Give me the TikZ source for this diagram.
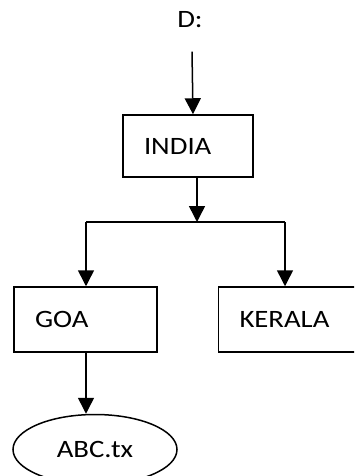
\documentclass[tikz,border=0pt]{standalone}
\usepackage{fontspec}
\setmainfont{Carlito}[FakeStretch=1.15]
\usepackage{tikz}
\usetikzlibrary{positioning, shapes.geometric, arrows.meta}
\tikzstyle{folder} = [rectangle,
minimum height=65pt,
text width=101pt,
inner xsep=21pt,
align=left,
draw=black,
line width=1.5pt]
\tikzstyle{file} = [ellipse,
minimum width=164pt,
minimum height=70pt,
text centered,
draw=black,
line width=1.5pt]
\tikzstyle{arrow} = [line width=1.5pt,-{Triangle[length=16pt,width=16pt]}]

\begin{document}
\begin{tikzpicture}[x=1pt, y=1pt, node distance=130pt, font=\fontsize{25}{30}\selectfont]
        \useasboundingbox (0,0) rectangle (354,-476);
        \clip (0,0) rectangle (354,-476);
        \node (drive) at (190,-20) {D:};
        \node (india) [folder, below of=drive, xshift=-2pt, yshift=4pt, text width=88pt, minimum height=62pt] {INDIA};
        \node (goa) [folder, below of=india, xshift=-102.5pt, yshift=-43.5pt] {GOA};
        \node (kerala) [folder, right of=goa, xshift=74.5pt] {KERALA};
        \node (abc) [file, below of=goa, xshift=9.5pt] {ABC.tx};
        \coordinate (split) at (197,-222);
        \coordinate (splitL) at (86,-222);
        \coordinate (splitR) at (285,-222);

        \draw [arrow] ([xshift=2pt, yshift=-20pt]drive.south) -- ([xshift=5pt]india.north);
        \draw [arrow] (india.south -| split) -- (split);
        \draw [line width=1.5pt] (splitL) -- (splitR);
        \draw [arrow] (splitL) -- (goa.north -| splitL);
        \draw [arrow] (splitR) -- (kerala.north -| splitR);
        \draw [arrow] (goa.south -| splitL) -- (abc.north -| splitL);
    \end{tikzpicture}
\end{document}
